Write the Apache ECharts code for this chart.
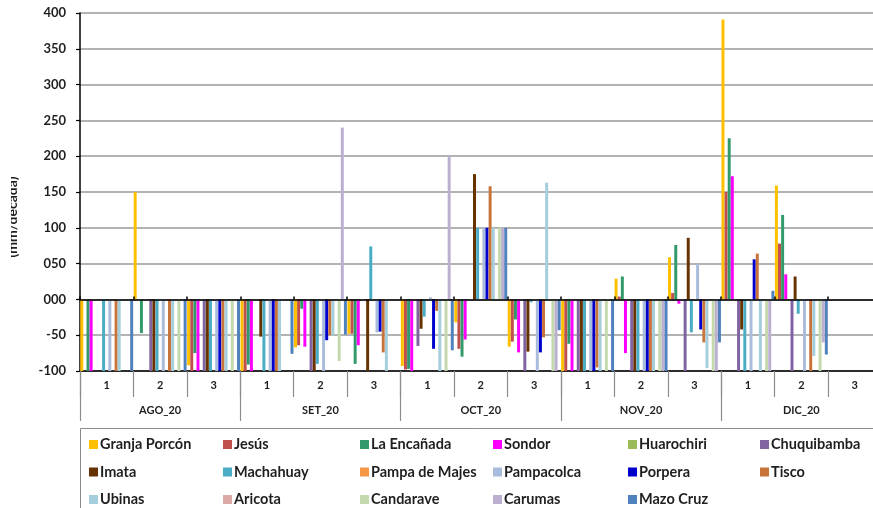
<!DOCTYPE html>
<html>
<head>
<meta charset="utf-8">
<script src="https://cdn.jsdelivr.net/npm/echarts@6/dist/echarts.min.js"></script>
<style>
  html, body { margin: 0; padding: 0; background: #fff; }
  #chart { width: 873px; height: 508px; }
</style>
</head>
<body>
<div id="chart"></div>
<script>
// Decades (1, 2, 3) inside each month
const decades = ['1','2','3','1','2','3','1','2','3','1','2','3','1','2','3'];
const months = ['AGO_20', 'SET_20', 'OCT_20', 'NOV_20', 'DIC_20'];
const yTickLabels = { '400':'400', '350':'350', '300':'300', '250':'250', '200':'200', '150':'150', '100':'100', '50':'050', '0':'000', '-50':'-50', '-100':'-100' };

// Values per station, one per decade (AGO_20 1 ... DIC_20 3)
const granjaPorcon = [-100, 150, -92, -100, -67, -48, -93, -32, -66, -100, 29, 59, 391, 159, null];
const jesus        = [null, null, -100, -100, -64, -48, -98, -69, -59, -100, 4, 9, 150, 78, null];
const laEncanada   = [-100, -47, -75, -91, -13, -90, -97, -80, -28, -62, 32, 76, 225, 118, null];
const sondor       = [-100, null, -100, -100, -66, -64, -100, -56, -74, -100, -75, -6, 172, 35, null];
const huarochiri   = [null, null, null, null, null, null, null, null, null, null, null, null, null, null, null];
const chuquibamba  = [null, -100, -100, null, -100, null, -65, null, -100, -100, -100, -100, -100, -100, null];
const imata        = [null, -100, -100, -52, -100, -100, -41, 175, -73, -100, -100, 86, -42, 32, null];
const machahuay    = [-100, -100, -100, -100, -90, 74, -24, 100, -4, -100, -100, -46, -100, -20, null];
const pampaDeMajes = [null, null, null, null, null, null, null, null, null, null, null, null, null, null, null];
const pampacolca   = [-100, -100, -100, -100, -100, -46, 3, 100, -100, -100, -100, 50, -100, -100, null];
const porpera      = [null, null, -100, -100, -57, -45, -69, 100, -74, -100, -100, -42, 56, null, null];
const tisco        = [-100, -100, -100, -100, -50, -74, -16, 158, -53, -95, -100, -60, 64, -100, null];
const ubinas       = [-100, -100, -100, -100, -50, -100, -100, 100, 163, -100, -100, -96, -100, -79, null];
const aricota      = [null, null, null, null, null, null, null, null, null, null, null, null, null, null, null];
const candarave    = [null, -100, -100, null, -86, null, -100, 100, -100, -100, -100, -100, -100, -100, null];
const carumas      = [null, null, null, null, 240, null, 200, 100, -100, null, -100, -100, -100, -60, null];
const mazoCruz     = [-100, -100, -100, -76, -49, null, -71, 100, -43, -100, -100, -60, 12, -77, null];

const stations = [
  { name: 'Granja Porcón',  data: granjaPorcon, color: '#FFC000' },
  { name: 'Jesús',          data: jesus,        color: '#C0504D' },
  { name: 'La Encañada',    data: laEncanada,   color: '#31996A' },
  { name: 'Sondor',         data: sondor,       color: '#FF00FF' },
  { name: 'Huarochiri',     data: huarochiri,   color: '#9BBB59' },
  { name: 'Chuquibamba',    data: chuquibamba,  color: '#8064A2' },
  { name: 'Imata',          data: imata,        color: '#663300' },
  { name: 'Machahuay',      data: machahuay,    color: '#4BACC6' },
  { name: 'Pampa de Majes', data: pampaDeMajes, color: '#F79646' },
  { name: 'Pampacolca',     data: pampacolca,   color: '#A9BCDC' },
  { name: 'Porpera',        data: porpera,      color: '#0000CC' },
  { name: 'Tisco',          data: tisco,        color: '#C8733A' },
  { name: 'Ubinas',         data: ubinas,       color: '#A5CEDC' },
  { name: 'Aricota',        data: aricota,      color: '#DCA8A8' },
  { name: 'Candarave',      data: candarave,    color: '#C5D9AE' },
  { name: 'Carumas',        data: carumas,      color: '#BBB0D0' },
  { name: 'Mazo Cruz',      data: mazoCruz,     color: '#4F81BD' }
];

const FONT = 'Lato, "Open Sans", sans-serif';
const TEXT = '#1f1f1f';

const chart = echarts.init(document.getElementById('chart'), null, { renderer: 'canvas' });

// Legend laid out in six columns of up to three rows
const legendCols = [
  { left: 89,  names: ['Granja Porcón', 'Imata', 'Ubinas'] },
  { left: 223, names: ['Jesús', 'Machahuay', 'Aricota'] },
  { left: 360, names: ['La Encañada', 'Pampa de Majes', 'Candarave'] },
  { left: 493, names: ['Sondor', 'Pampacolca', 'Carumas'] },
  { left: 628, names: ['Huarochiri', 'Porpera', 'Mazo Cruz'] },
  { left: 760, names: ['Chuquibamba', 'Tisco'] }
];

const legends = legendCols.map(c => ({
  orient: 'vertical',
  left: c.left,
  top: 437,
  itemWidth: 9,
  itemHeight: 9,
  itemGap: 12.5,
  padding: 0,
  selectedMode: false,
  icon: 'rect',
  data: c.names,
  textStyle: { fontFamily: FONT, fontWeight: 'bold', fontSize: 14.5, color: TEXT, padding: [0, 0, 0, -3] }
}));

const series = stations.map(s => ({
  name: s.name,
  type: 'bar',
  data: s.data,
  barGap: '5%',
  barCategoryGap: '1%',
  itemStyle: { color: s.color },
  emphasis: { disabled: true },
  animation: false
}));

const option = {
  backgroundColor: '#ffffff',
  animation: false,
  legend: legends,
  grid: { left: 80, width: 801.5, top: 13, height: 358, containLabel: false, outerBoundsMode: 'none' },
  xAxis: [
    {
      type: 'category',
      data: decades,
      position: 'bottom',
      axisLine: { onZero: false, lineStyle: { color: '#000', width: 1.5 } },
      axisTick: { show: true, interval: 0, length: 26, lineStyle: { color: '#8c8c8c', width: 1.2 } },
      axisLabel: { interval: 0, margin: 9, fontFamily: FONT, fontWeight: 'bold', fontSize: 11, color: TEXT },
      splitLine: { show: false }
    },
    {
      type: 'category',
      data: months,
      position: 'bottom',
      axisLine: { show: false, onZero: false },
      axisTick: { show: true, interval: 0, length: 50, lineStyle: { color: '#8c8c8c', width: 1.2 } },
      axisLabel: { interval: 0, margin: 34, fontFamily: FONT, fontWeight: 'bold', fontSize: 11, color: TEXT },
      splitLine: { show: false }
    },
    {
      type: 'category',
      data: decades,
      axisLine: { onZero: true, lineStyle: { color: '#000', width: 1.5 } },
      axisTick: { show: true, interval: 0, length: 3, lineStyle: { color: '#000', width: 1.5 } },
      axisLabel: { show: false },
      splitLine: { show: false },
      z: 5
    }
  ],
  yAxis: {
    type: 'value',
    min: -100,
    max: 400,
    interval: 50,
    axisLine: { show: true, lineStyle: { color: '#000', width: 1.5 } },
    axisTick: { show: true, length: 4, lineStyle: { color: '#000', width: 1.2 } },
    axisLabel: {
      margin: 14,
      fontFamily: FONT, fontWeight: 'bold', fontSize: 13, color: TEXT,
      formatter: v => yTickLabels[String(v)] ?? String(v)
    },
    splitLine: { show: true, lineStyle: { color: '#9a9a9a', width: 1.5 } }
  },
  graphic: [
    {
      type: 'text',
      x: 12, y: 217,
      rotation: Math.PI / 2,
      style: {
        text: '(mm/década)',
        fontFamily: FONT, fontWeight: 'bold', fontSize: 14, fill: TEXT,
        align: 'center', verticalAlign: 'middle'
      }
    },
    {
      // the title sits partly behind the page margin
      type: 'rect',
      shape: { x: 0, y: 140, width: 11, height: 160 },
      style: { fill: '#ffffff' },
      z: 10
    },
    {
      type: 'rect',
      shape: { x: 80.5, y: 428.5, width: 820, height: 100 },
      style: { fill: 'none', stroke: '#8c8c8c', lineWidth: 1 },
      z: -1
    }
  ],
  series: series
};

chart.setOption(option);
</script>
</body>
</html>
